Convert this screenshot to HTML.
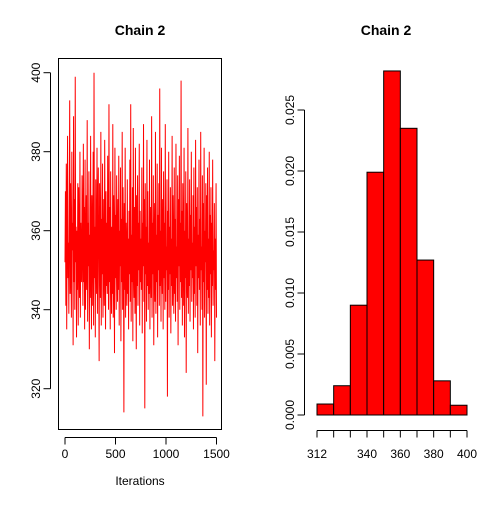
<!DOCTYPE html>
<html><head><meta charset="utf-8"><style>
body{margin:0;background:#fff}
svg text{font-family:"Liberation Sans",sans-serif;font-size:12px;fill:#000}
</style></head><body>
<svg id="c" width="504" height="504" xmlns="http://www.w3.org/2000/svg">
<text x="140" y="35" text-anchor="middle" style="font-weight:bold;font-size:14px">Chain 2</text>
<text x="386" y="35" text-anchor="middle" style="font-weight:bold;font-size:14px">Chain 2</text>
<text x="140" y="485" text-anchor="middle">Iterations</text>
<g id="trace"></g>
<g id="hist"></g>
</svg>
<script>
const traceVals=[352,370,341,377,335,362,384,348,357,339,366,393,344,372,351,338,380,355,362,331,389,347,368,340,399,352,361,333,360,345,372,336,371,356,343,380,338,362,350,347,374,358,341,382,347,366,335,378,340,353,369,345,388,337,362,351,375,330,359,343,384,352,335,369,341,356,380,336,400,348,361,333,373,355,344,381,339,366,376,350,327,372,358,343,385,336,363,349,377,338,352,368,341,383,357,335,370,346,362,344,379,353,340,392,347,366,335,375,352,339,361,344,387,338,369,355,329,381,348,364,340,374,357,342,368,345,379,336,360,351,376,332,363,347,385,340,371,356,314,367,345,381,338,362,352,341,373,344,358,335,365,349,378,342,392,337,359,347,371,332,386,352,343,366,339,381,355,330,369,346,374,341,362,350,382,336,365,347,358,345,376,334,362,351,387,342,368,315,372,349,361,337,383,346,370,340,357,344,378,335,366,352,343,389,338,362,349,374,331,356,367,342,385,339,359,347,377,333,364,350,372,341,396,346,360,337,381,352,344,368,335,375,348,362,340,387,342,356,350,373,318,365,345,380,338,361,349,371,334,358,346,384,341,369,352,339,376,344,363,337,382,348,356,342,374,331,368,351,379,340,362,347,398,343,365,336,372,355,341,381,333,360,348,375,324,367,352,343,386,339,358,346,373,337,364,350,380,342,357,348,369,335,376,344,361,338,383,351,366,341,371,329,359,348,378,345,363,336,385,350,356,340,374,313,367,347,381,338,360,352,372,321,369,345,376,339,358,343,380,336,364,349,371,333,362,346,378,341,355,350,367,327,358,345,372,338];
const traceTicks=[0,500,1000,1500];
const traceYTicks=[320,340,360,380,400];
const histBreaks=[310,320,330,340,350,360,370,380,390,400];
const histDensity=[0.0009,0.0024,0.0090,0.0199,0.0282,0.0235,0.0127,0.0028,0.0008];
const histXLabels=[312,340,360,380,400];
const histYTicks=[0,0.005,0.010,0.015,0.020,0.025];
const NS='http://www.w3.org/2000/svg';
function mk(p,t,a){const e=document.createElementNS(NS,t);for(const k in a)e.setAttribute(k,a[k]);p.appendChild(e);return e;}
const tg=document.getElementById('trace');
const tx=v=>65+v*(151.5/1500), ty=v=>72.7+(400-v)*3.95;
const box=mk(tg,'rect',{x:58.5,y:58.5,width:163,height:371,fill:'none',stroke:'#000'});

const n=traceVals.length;
const pts=traceVals.map((v,i)=>tx(i*1500/(n-1)).toFixed(2)+','+ty(v).toFixed(1)).join(' ');
const pl=mk(tg,'polyline',{points:pts,fill:'none',stroke:'#ff0000','stroke-width':1});

mk(tg,'line',{x1:tx(0),x2:tx(1500),y1:437.5,y2:437.5,stroke:'#000'});
traceTicks.forEach(v=>{mk(tg,'line',{x1:tx(v),x2:tx(v),y1:437.5,y2:444.5,stroke:'#000'});
 const t=mk(tg,'text',{x:tx(v),y:458,'text-anchor':'middle'});t.textContent=v;
 });
mk(tg,'line',{x1:50.5,x2:50.5,y1:ty(320),y2:ty(400),stroke:'#000'});
traceYTicks.forEach(v=>{mk(tg,'line',{x1:43.5,x2:50.5,y1:ty(v),y2:ty(v),stroke:'#000'});
 const t=mk(tg,'text',{x:0,y:0,'text-anchor':'middle',transform:`translate(40,${ty(v)}) rotate(-90)`});t.textContent=v;
 });
const hg=document.getElementById('hist');
const hx=v=>317+(v-310)*(150/90), hy=v=>415+(-v)*12200;
histDensity.forEach((d,i)=>{const r=mk(hg,'rect',{x:hx(histBreaks[i]),y:hy(d),width:hx(histBreaks[i+1])-hx(histBreaks[i]),height:hy(0)-hy(d),fill:'#ff0000',stroke:'#000','stroke-width':1});
 });
mk(hg,'line',{x1:hx(310),x2:hx(400),y1:430.5,y2:430.5,stroke:'#000'});
histBreaks.forEach(v=>mk(hg,'line',{x1:hx(v),x2:hx(v),y1:430.5,y2:437.5,stroke:'#000'}));
histXLabels.forEach((l,i)=>{const t=mk(hg,'text',{x:hx(i==0?310:l),y:458,'text-anchor':'middle'});t.textContent=l;
 });
mk(hg,'line',{x1:304.5,x2:304.5,y1:hy(0),y2:hy(0.025),stroke:'#000'});
histYTicks.forEach(v=>{mk(hg,'line',{x1:297.5,x2:304.5,y1:hy(v),y2:hy(v),stroke:'#000'});
 const t=mk(hg,'text',{x:0,y:0,'text-anchor':'middle',transform:`translate(294,${hy(v)}) rotate(-90)`});t.textContent=v.toFixed(3);
 });
</script>
</body></html>
